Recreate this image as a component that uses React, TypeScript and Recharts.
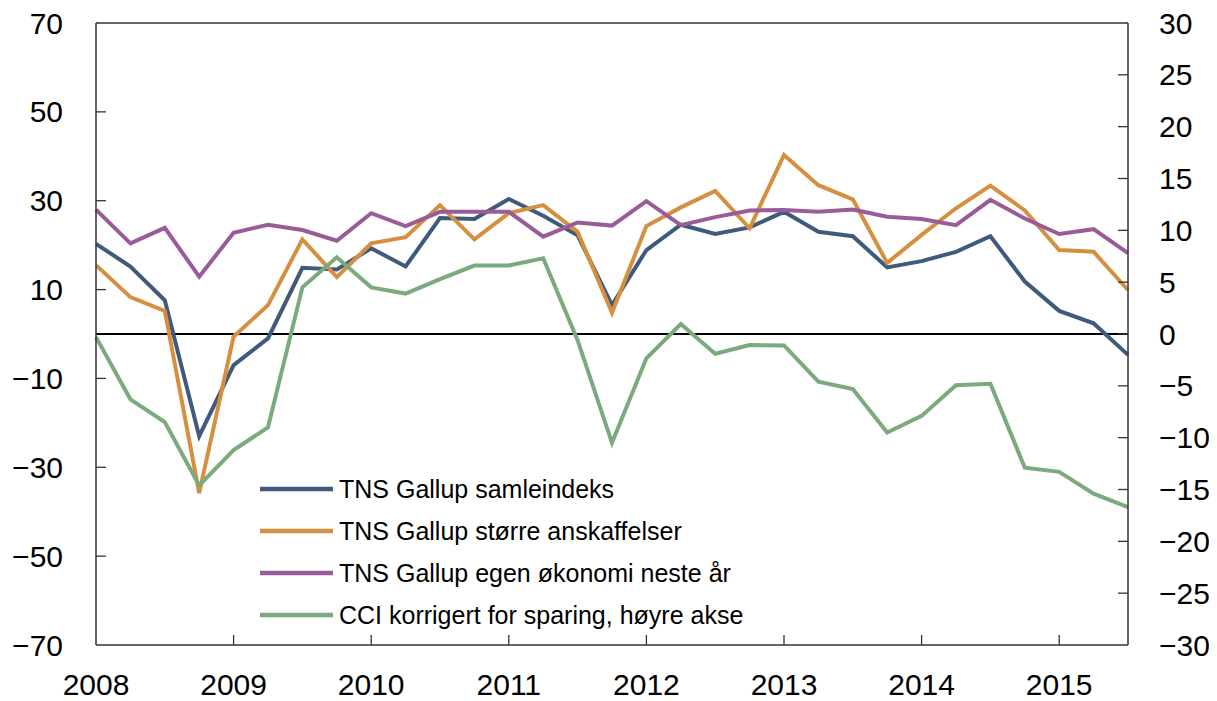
import React from "react";
import { LineChart, Line, XAxis, YAxis, ReferenceLine, Legend } from "recharts";

const FONT = "'Liberation Sans', Arial, Helvetica, sans-serif";
const AXIS = "#333";

const quarters = [
  "2008K1", "2008K2", "2008K3", "2008K4",
  "2009K1", "2009K2", "2009K3", "2009K4",
  "2010K1", "2010K2", "2010K3", "2010K4",
  "2011K1", "2011K2", "2011K3", "2011K4",
  "2012K1", "2012K2", "2012K3", "2012K4",
  "2013K1", "2013K2", "2013K3", "2013K4",
  "2014K1", "2014K2", "2014K3", "2014K4",
  "2015K1", "2015K2", "2015K3",
];

const samleindeks = [
  20.3, 15.2, 7.6, -23, -7, -1.0, 14.9, 14.5, 19.3, 15.2, 26.1, 25.9, 30.4, 26.6, 22.2, 6.5,
  18.9, 24.6, 22.5, 24.0, 27.5, 23.0, 22.0, 15.0, 16.4, 18.5, 22.0, 11.8, 5.2, 2.4, -4.7,
];
const storreAnskaffelser = [
  15.5, 8.3, 5.2, -35.8, -0.6, 6.5, 21.3, 12.8, 20.4, 21.8, 29.0, 21.3, 27.2, 29.0, 23.0, 4.8,
  24.3, 28.5, 32.2, 23.8, 40.3, 33.5, 30.3, 16.0, 22.3, 28.3, 33.4, 27.8, 18.9, 18.5, 9.9,
];
const egenOkonomi = [
  28.0, 20.4, 23.9, 12.9, 22.8, 24.6, 23.4, 21.0, 27.2, 24.3, 27.5, 27.5, 27.5, 21.9, 25.1, 24.4,
  29.9, 24.5, 26.3, 27.8, 27.9, 27.5, 28.0, 26.4, 25.9, 24.5, 30.2, 26.0, 22.5, 23.6, 18.2,
];
const cciSparing = [
  -0.3, -6.3, -8.5, -14.6, -11.2, -9.0, 4.5, 7.4, 4.5, 3.9, 5.3, 6.6, 6.6, 7.3, -0.6, -10.5,
  -2.35, 0.96, -1.9, -1.06, -1.1, -4.6, -5.3, -9.5, -7.9, -4.95, -4.8, -12.9, -13.3, -15.4, -16.7,
];

const seriesNames = [
  "TNS Gallup samleindeks",
  "TNS Gallup større anskaffelser",
  "TNS Gallup egen økonomi neste år",
  "CCI korrigert for sparing, høyre akse",
];

const leftTicks = [70, 50, 30, 10, -10, -30, -50, -70];
const rightTicks = [30, 25, 20, 15, 10, 5, 0, -5, -10, -15, -20, -25, -30];

const data = quarters.map((q, i) => ({
  q,
  samle: samleindeks[i],
  storre: storreAnskaffelser[i],
  egen: egenOkonomi[i],
  cci: cciSparing[i],
}));

const fmt = (v: number) => (v < 0 ? "\u2212" + Math.abs(v) : String(v));

const LeftTick = ({ x, y, payload }: any) => (
  <g>
    {payload.value !== 70 && payload.value !== -70 && (
      <line x1={x} y1={y} x2={x + 10} y2={y} stroke={AXIS} strokeWidth={1.3} />
    )}
    <text x={x - 33} y={y} textAnchor="end" dominantBaseline="central" fontSize={30} fontFamily={FONT} fill="#000">
      {fmt(payload.value)}
    </text>
  </g>
);

const RightTick = ({ x, y, payload }: any) => (
  <g>
    {payload.value !== 30 && payload.value !== -30 && (
      <line x1={x} y1={y} x2={x - 10} y2={y} stroke={AXIS} strokeWidth={1.3} />
    )}
    <text x={x + 31} y={y} textAnchor="start" dominantBaseline="central" fontSize={30} fontFamily={FONT} fill="#000">
      {fmt(payload.value)}
    </text>
  </g>
);

const BottomTick = ({ x, y, payload, index }: any) => (
  <g>
    {index !== 0 && <line x1={x} y1={y} x2={x} y2={y - 10} stroke={AXIS} strokeWidth={1.3} />}
    <text x={x} y={y + 39} textAnchor="middle" dominantBaseline="central" fontSize={30} fontFamily={FONT} fill="#000">
      {String(payload.value).slice(0, 4)}
    </text>
  </g>
);

const renderLegend = (props: any) => {
  const items = [...(props.payload || [])].sort(
    (a: any, b: any) => seriesNames.indexOf(a.value) - seriesNames.indexOf(b.value)
  );
  return (
    <div style={{ fontFamily: FONT, fontSize: 25, color: "#000" }}>
      {items.map((p: any) => (
        <div key={p.value} style={{ display: "flex", alignItems: "center", height: 42 }}>
          <svg width={73} height={6} style={{ display: "block" }}>
            <line x1={0} y1={3} x2={73} y2={3} stroke={p.color} strokeWidth={4.5} />
          </svg>
          <span style={{ marginLeft: 6, whiteSpace: "nowrap" }}>{p.value}</span>
        </div>
      ))}
    </div>
  );
};

export default function App() {
  return (
    <LineChart width={1201} height={693} data={data} margin={{ top: 15, right: 0, bottom: 0, left: 0 }}>
      <XAxis
        dataKey="q"
        scale="point"
        padding={{ left: 0, right: 0 }}
        interval={3}
        tickSize={0}
        tickMargin={0}
        tickLine={false}
        height={56}
        axisLine={{ stroke: AXIS, strokeWidth: 1.5 }}
        tick={<BottomTick />}
      />
      <YAxis
        yAxisId="left"
        domain={[-70, 70]}
        ticks={leftTicks}
        interval={0}
        width={88}
        tickSize={0}
        tickMargin={0}
        tickLine={false}
        axisLine={{ stroke: AXIS, strokeWidth: 1.5 }}
        tick={<LeftTick />}
      />
      <YAxis
        yAxisId="right"
        orientation="right"
        domain={[-30, 30]}
        ticks={rightTicks}
        interval={0}
        width={81}
        tickSize={0}
        tickMargin={0}
        tickLine={false}
        axisLine={{ stroke: AXIS, strokeWidth: 1.5 }}
        tick={<RightTick />}
      />
      <ReferenceLine yAxisId="left" y={70} stroke={AXIS} strokeWidth={1.5} />
      <ReferenceLine yAxisId="left" y={0} stroke="#000" strokeWidth={2} />
      <Line yAxisId="left" dataKey="samle" name={seriesNames[0]} stroke="#3f5a7c" strokeWidth={4} dot={false} isAnimationActive={false} />
      <Line yAxisId="left" dataKey="storre" name={seriesNames[1]} stroke="#d68f3f" strokeWidth={4} dot={false} isAnimationActive={false} />
      <Line yAxisId="left" dataKey="egen" name={seriesNames[2]} stroke="#995c99" strokeWidth={4} dot={false} isAnimationActive={false} />
      <Line yAxisId="right" dataKey="cci" name={seriesNames[3]} stroke="#7aaa7d" strokeWidth={4} dot={false} isAnimationActive={false} />
      <Legend
        layout="vertical"
        align="center"
        verticalAlign="middle"
        content={renderLegend}
        wrapperStyle={{ left: 252, top: 460, width: "auto" }}
      />
    </LineChart>
  );
}
